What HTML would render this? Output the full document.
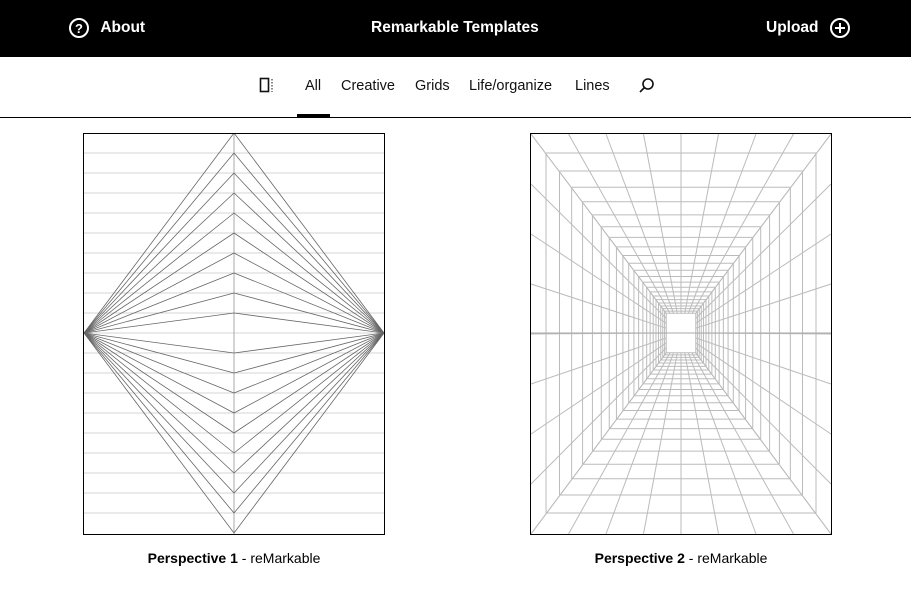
<!DOCTYPE html>
<html><head><meta charset="utf-8">
<style>
body{margin:0;width:911px;height:593px;background:#fff;font-family:"Liberation Sans",sans-serif;position:relative;overflow:hidden}
.hdr{position:absolute;left:0;top:0;width:911px;height:57px;background:#000;color:#fff;font-weight:bold;font-size:15.5px}
.hdr div{position:absolute;top:19px}
.nav{position:absolute;top:78px;font-size:14.5px;color:#111}
.ab{position:absolute}
</style></head><body>
<div class="hdr">
 <div style="left:68px;top:17px">
  <svg width="22" height="22" style="vertical-align:middle"><circle cx="11" cy="11" r="9" fill="none" stroke="#fff" stroke-width="2"/><text x="11" y="16" fill="#fff" font-size="13" font-weight="bold" text-anchor="middle" font-family="Liberation Sans">?</text></svg>
  <span style="margin-left:6px;vertical-align:middle">About</span></div>
 <div style="left:371px">Remarkable Templates</div>
 <div style="left:766px;top:17px">
  <span style="vertical-align:middle">Upload</span>
  <svg width="22" height="22" style="vertical-align:middle;margin-left:6px"><circle cx="11" cy="11" r="9" fill="none" stroke="#fff" stroke-width="2"/><path d="M11 6v10M6 11h10" stroke="#fff" stroke-width="2"/></svg></div>
</div>
<svg class="ab" style="left:259px;top:77px" width="18" height="18"><rect x="1.5" y="1.5" width="8" height="13" fill="none" stroke="#111" stroke-width="1.6"/><path d="M13 2v13" stroke="#111" stroke-dasharray="1.5 1.5"/></svg>
<div class="nav" style="left:305px">All</div>
<div class="nav" style="left:341px">Creative</div>
<div class="nav" style="left:415px">Grids</div>
<div class="nav" style="left:469px">Life/organize</div>
<div class="nav" style="left:575px">Lines</div>
<svg class="ab" style="left:638px;top:77px" width="18" height="18"><circle cx="10" cy="7" r="5" fill="none" stroke="#111" stroke-width="1.6"/><path d="M6.5 10.5L2 15" stroke="#111" stroke-width="1.6"/></svg>
<div class="ab" style="left:0;top:117px;width:911px;height:1px;background:#000"></div>
<div class="ab" style="left:297px;top:114px;width:33px;height:3px;background:#000"></div>

<svg class="ab" id="p1" style="left:83px;top:133px" width="302" height="402"></svg>
<svg class="ab" id="p2" style="left:530px;top:133px" width="302" height="402"></svg>
<div class="ab" style="left:0;width:468px;text-align:center;top:550px;font-size:14px"><b>Perspective 1</b> - reMarkable</div>
<div class="ab" style="left:447px;width:468px;text-align:center;top:550px;font-size:14px"><b>Perspective 2</b> - reMarkable</div>
<script>
const NS='http://www.w3.org/2000/svg';
function ln(s,x1,y1,x2,y2,c,w){const l=document.createElementNS(NS,'line');l.setAttribute('x1',x1);l.setAttribute('y1',y1);l.setAttribute('x2',x2);l.setAttribute('y2',y2);l.setAttribute('stroke',c);l.setAttribute('stroke-width',w||1);


s.appendChild(l);}
function frame(s){const r=document.createElementNS(NS,'rect');r.setAttribute('x',0.5);r.setAttribute('y',0.5);r.setAttribute('width',301);r.setAttribute('height',401);r.setAttribute('fill','none');r.setAttribute('stroke','#000');


s.appendChild(r);}
const p1=document.getElementById('p1');
for(let y=20;y<400;y+=20)ln(p1,0,y,302,y,'#d6d6d6');
ln(p1,151,0,151,402,'#aaa');
for(let k=0;k<10;k++){const a=k*20;ln(p1,1,200,151,a,'#666',0.8);ln(p1,301,200,151,a,'#666',0.8);ln(p1,1,200,151,400-a,'#666',0.8);ln(p1,301,200,151,400-a,'#666',0.8);}
frame(p1);
const p2=document.getElementById('p2');const cx=151,cy=200;
let h=180;while(h>19){const w=h*0.75;ln(p2,cx-w,cy-h,cx+w,cy-h,'#bbb');ln(p2,cx-w,cy+h,cx+w,cy+h,'#bbb');ln(p2,cx-w,cy-h,cx-w,cy+h,'#bbb');ln(p2,cx+w,cy-h,cx+w,cy+h,'#bbb');h*=0.9;}
const ir=h/0.9;
for(let i=0;i<=8;i++){const x=i*37.5+1,y=i*50+1;
 [[x,1],[x,401],[1,y],[301,y]].forEach(([px,py])=>{const dx=px-cx,dy=py-cy;const t=Math.min(ir/Math.abs(dy||1e-9),ir*0.75/Math.abs(dx||1e-9));ln(p2,px,py,cx+dx*t,cy+dy*t,'#bbb');});}
ln(p2,0,cy,302,cy,'#aaa');
frame(p2);
</script>
</body></html>
